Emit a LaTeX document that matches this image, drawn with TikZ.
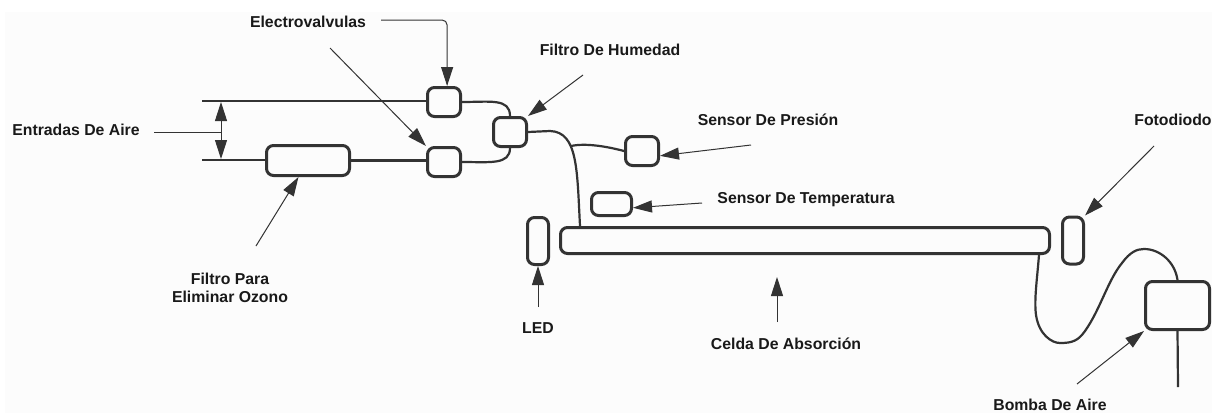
\documentclass[tikz,border=0pt]{standalone}
\usepackage{fontspec}
\usepackage{xcolor}
\usetikzlibrary{arrows.meta}
\setmainfont{Liberation Sans}
\definecolor{linegray}{HTML}{333333}
\definecolor{paper}{HTML}{FCFCFC}

\begin{document}
\begin{tikzpicture}[x=1pt,y=-1pt,
	part/.style={draw=linegray,line width=3pt,rounded corners=7pt,inner sep=0pt},
	pipe/.style={draw=linegray,line width=2.2pt},
	pointer/.style={draw=linegray,line width=1pt,-{Triangle[length=19pt,width=12pt]}},
	label/.style={font=\fontsize{15.8}{18}\selectfont\bfseries,text=black!90,align=center,inner sep=0pt}]
\useasboundingbox (0,0) rectangle (1212,413);
\fill[paper] (5,12) rectangle (1212,413);

% parts
\node[part,minimum width=33pt,minimum height=29pt] (valveup) at (444,102) {};
\node[part,minimum width=33pt,minimum height=29pt] (valvedown) at (444,162) {};
\node[part,minimum width=83pt,minimum height=30pt] (ozone) at (308,160.5) {};
\node[part,minimum width=33pt,minimum height=29pt] (humid) at (510,132) {};
\node[part,minimum width=33pt,minimum height=29pt] (press) at (642,151) {};
\node[part,minimum width=40pt,minimum height=23pt] (temp) at (611.5,204) {};
\node[part,minimum width=21pt,minimum height=47pt] (led) at (538,241) {};
\node[part,minimum width=489pt,minimum height=26pt] (cell) at (805,240.5) {};
\node[part,minimum width=21pt,minimum height=47pt] (photo) at (1073,240.5) {};
\node[part,minimum width=64pt,minimum height=48pt] (pump) at (1177.5,305.5) {};

% labels
\node[label] (entradas) at (76,130) {Entradas De Aire};
\node[label] (electro) at (308,22) {Electrovalvulas};
\node[label] (humidtxt) at (610,50) {Filtro De Humedad};
\node[label] (ozonetxt) at (230,288) {Filtro Para\\Eliminar Ozono};
\node[label] (presstxt) at (768,120) {Sensor De Presión};
\node[label] (temptxt) at (806,200) {Sensor De Temperatura};
\node[label] (phototxt) at (1173,120) {Fotodiodo};
\node[label] (ledtxt) at (538,328) {LED};
\node[label] (celltxt) at (786,344) {Celda De Absorción};
\node[label] (pumptxt) at (1050,404.5) {Bomba De Aire};

% free ends
\coordinate (inletup) at (202,101);
\coordinate (inletdown) at (202,160);
\coordinate (gapup) at (221,102);
\coordinate (gapdown) at (221,159);
\coordinate (gapmid) at (221,132);
\coordinate (entradastail) at (154,132);
\coordinate (joint) at (571,146);
\coordinate (cellin) at (580,226);
\coordinate (cellout) at (1039,255);
\coordinate (exhaust) at (1178,387);
\coordinate (celltip) at (777,277);
\coordinate (celltail) at (777,322);

% pipes
\draw[pipe] (inletup) -- (valveup.west |- inletup);
\draw[pipe] (inletdown) -- (ozone.west |- inletdown);
\draw[pipe] (ozone.east) -- (ozone.east -| valvedown.west);
\draw[pipe] (valveup.east) .. controls (490,102) and (510,98) .. (humid.north);
\draw[pipe] (valvedown.east) .. controls (490,162) and (510,165) .. (humid.south);
\draw[pipe] (humid.east) -- (550,131)
	.. controls (578,132) and (577,170) .. (cellin);
\draw[pipe] (joint) .. controls (585,143) and (605,146) .. (press.west);
\draw[pipe] (cellout) .. controls (1037,280) and (1034,300) .. (1036,315)
	.. controls (1039,335) and (1052,343) .. (1060,343)
	.. controls (1072,343) and (1078,341) .. (1085,331)
	.. controls (1100,310) and (1108,280) .. (1122,263)
	.. controls (1130,252) and (1137,249) .. (1144,249)
	.. controls (1160,249) and (1175,262) .. (pump.north);
\draw[pipe] (pump.south) -- (exhaust);

% pointers
\draw[pointer,rounded corners=5pt] (381,20) coordinate (electrotail) -| (valveup.79);
\draw[pointer] (330,48) coordinate (electrotailb) -- (valvedown.north west);
\draw[pointer] (583,75) coordinate (humidtail) -- (humid.north east);
\draw[pointer] (256,246) coordinate (ozonetail) -- (ozone.240);
\draw[pointer] (751,145) coordinate (presstail) -- (press.-15);
\draw[pointer] (702,203) coordinate (temptail) -- (temp.-10);
\draw[pointer] (1154,146) coordinate (phototail) -- (photo.north east);
\draw[pointer] (1077,384) coordinate (pumptail) -- (pump.south west);
\draw[pointer] (538,307) coordinate (ledtail) -- (led.south);
\draw[pointer] (celltail) -- (celltip);
\draw[pointer] (gapmid) -- (gapup);
\draw[pointer] (gapmid) -- (gapdown);
\draw[draw=linegray,line width=1pt] (entradastail) -- (gapmid);
\end{tikzpicture}
\end{document}
